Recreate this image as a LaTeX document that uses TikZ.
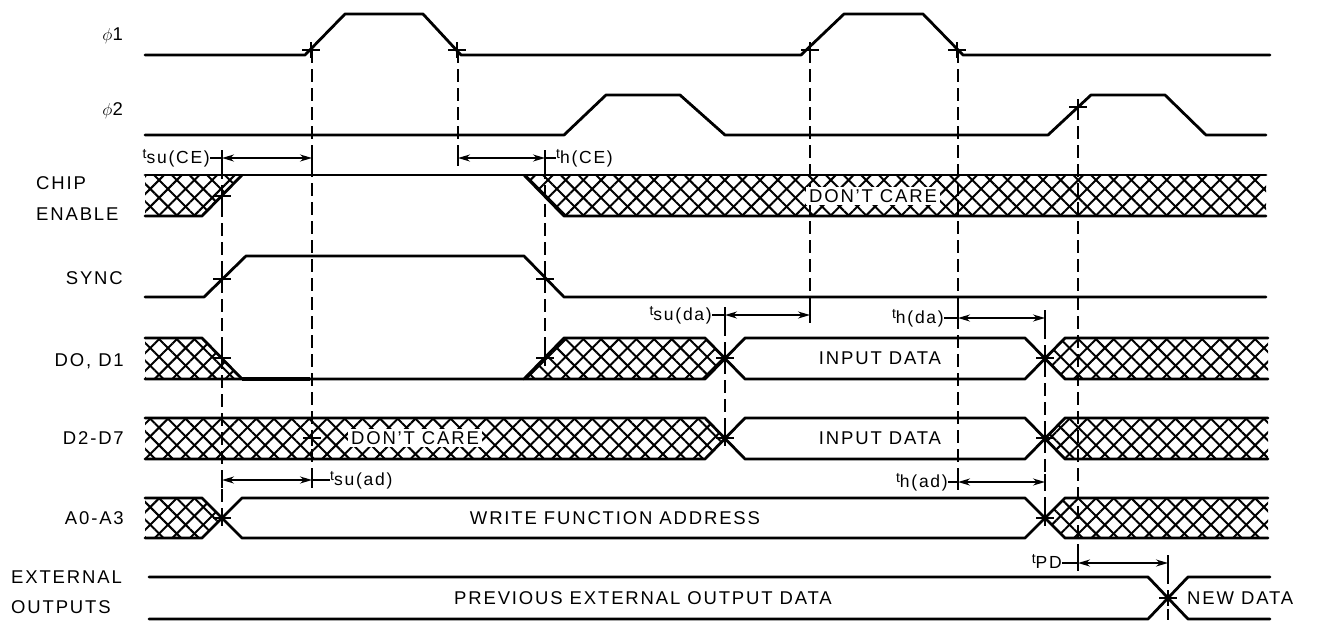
\documentclass[tikz,border=0pt]{standalone}
\usepackage{fontspec}
\setmainfont{Liberation Sans}[LetterSpace=10]
\usetikzlibrary{arrows.meta,patterns.meta}
\newcommand{\tlab}[1]{\raisebox{5pt}{\fontsize{14}{14}\selectfont t}{\fontsize{17.5}{18}\selectfont #1}}
\tikzset{
  sig/.style={line width=2.8pt, line join=round, line cap=round},
  dsh/.style={line width=1.5pt, dash pattern=on 13pt off 6pt},
  hatch/.style={pattern={Lines[angle=45,distance=12.5pt,line width=2pt]},
                postaction={pattern={Lines[angle=-45,distance=12.5pt,line width=2pt]}}},
  tick/.style={line width=1.5pt},
  tarr/.style={line width=1.5pt, {Stealth[length=12pt,width=7pt]}-{Stealth[length=12pt,width=7pt]}},
  lbl/.style={font=\fontsize{18.5}{20}\selectfont, inner sep=0pt, text height=13.2pt, text depth=0pt},
  tl/.style={inner sep=0pt},
  pics/mk/.style={code={\draw[line width=1.5pt] (-9,0)--(9,0) (0,-8)--(0,8);}},
}
\begin{document}
\begin{tikzpicture}[x=1pt,y=-1pt]
\useasboundingbox (0,0) rectangle (1318,622);
\fill[white] (0,0) rectangle (1318,622);

% ---------- hatched regions ----------
\path[hatch] (145,175) -- (242,175) -- (202,216) -- (145,216) -- cycle;
\path[hatch] (524,175) -- (1266,175) -- (1266,216) -- (564,216) -- cycle;
\path[hatch] (145,338) -- (202,338) -- (242,379) -- (145,379) -- cycle;
\path[hatch] (524,379) -- (564,338) -- (705,338) -- (725,358.5) -- (705,379) -- cycle;
\path[hatch] (1045,358.5) -- (1065,338) -- (1268,338) -- (1268,379) -- (1065,379) -- cycle;
\path[hatch] (145,418) -- (705,418) -- (725,438.5) -- (705,459) -- (145,459) -- cycle;
\path[hatch] (1045,438.5) -- (1065,418) -- (1268,418) -- (1268,459) -- (1065,459) -- cycle;
\path[hatch] (145,498) -- (202,498) -- (222,518) -- (202,538) -- (145,538) -- cycle;
\path[hatch] (1045,518) -- (1065,498) -- (1268,498) -- (1268,538) -- (1065,538) -- cycle;

% ---------- signals ----------
% phi1
\draw[sig] (145,55) -- (305,55) -- (345,14) -- (423,14) -- (461,55) -- (801,55) -- (844,14) -- (923,14) -- (963,55) -- (1270,55);
% phi2
\draw[sig] (145,135) -- (564,135) -- (606,95) -- (680,95) -- (725,135) -- (1048,135) -- (1091,95) -- (1165,95) -- (1206,135) -- (1266,135);
% chip enable
\draw[sig] (145,175) -- (1266,175);
\draw[sig] (145,216) -- (202,216) -- (242,175);
\draw[sig] (524,175) -- (564,216) -- (1266,216);
% sync
\draw[sig] (145,297) -- (204,297) -- (246,256) -- (524,256) -- (564,297) -- (1266,297);
% D0, D1
\draw[sig] (145,338) -- (202,338) -- (242,379);
\draw[sig] (145,379) -- (705,379) -- (745,338) -- (1025,338) -- (1065,379) -- (1268,379);
\draw[sig] (524,379) -- (564,338) -- (705,338) -- (745,379) -- (1025,379) -- (1065,338) -- (1268,338);
\draw[line width=4.2pt] (242,379) -- (310,379);
% D2-D7
\draw[sig] (145,418) -- (705,418) -- (745,459) -- (1025,459) -- (1065,418) -- (1268,418);
\draw[sig] (145,459) -- (705,459) -- (745,418) -- (1025,418) -- (1065,459) -- (1268,459);
% A0-A3
\draw[sig] (145,498) -- (202,498) -- (242,538) -- (1025,538) -- (1065,498) -- (1268,498);
\draw[sig] (145,538) -- (202,538) -- (242,498) -- (1025,498) -- (1065,538) -- (1268,538);
% external outputs
\draw[sig] (149,577) -- (1148,577) -- (1188,619) -- (1270,619);
\draw[sig] (149,619) -- (1148,619) -- (1188,577) -- (1270,577);

% ---------- dashed reference lines ----------
\draw[dsh] (222,166) -- (222,518);
\draw[dsh] (312,50) -- (312,483);
\draw[dsh] (458,50) -- (458,166);
\draw[dsh] (545,166) -- (545,358);
\draw[dsh] (725,323) -- (725,438);
\draw[dsh] (810,50) -- (810,322);
\draw[dsh] (958,50) -- (958,482);
\draw[dsh] (1045,326) -- (1045,518);
\draw[dsh] (1078,107) -- (1078,562);
\draw[dsh] (1168,571) -- (1168,620);

% ---------- crossing marks ----------
\foreach \p in {(311,50),(457,50),(810,50),(957,50),(1078,107),(222,196),(222,279),(545,279),
  (222,358),(545,358),(725,358),(1045,358),(312,438),(725,438),(1045,438),(222,518),(1045,518),(1168,598)}
  \pic at \p {mk};

% ---------- signal names ----------
\node[lbl, anchor=east] (nphi1) at (123,34) {$\phi$1};
\node[lbl, anchor=east] (nphi2) at (123,109) {$\phi$2};
\node[lbl, anchor=west] (nchip) at (36,183) {CHIP};
\node[lbl, anchor=west] (nenable) at (36,214) {ENABLE};
\node[lbl, anchor=east] (nsync) at (123,278) {SYNC};
\node[lbl, anchor=east] (nd01) at (124,360) {DO, D1};
\node[lbl, anchor=east] (nd27) at (124,438) {D2-D7};
\node[lbl, anchor=east] (na03) at (124,518) {A0-A3};
\node[lbl, anchor=west] (next) at (11,577) {EXTERNAL};
\node[lbl, anchor=west] (nout) at (11,607) {OUTPUTS};

% ---------- texts in the waveforms ----------
\node[lbl, fill=white, inner xsep=3pt, inner ysep=2pt] (dc1) at (873,196) {DON'T CARE};
\node[lbl, fill=white, inner xsep=3pt, inner ysep=2pt] (dc2) at (415,438) {DON'T CARE};
\node[lbl] (in1) at (880,358) {INPUT DATA};
\node[lbl] (in2) at (880,438) {INPUT DATA};
\node[lbl] (wfa) at (615,518) {WRITE FUNCTION ADDRESS};
\node[lbl] (prev) at (643,598) {PREVIOUS EXTERNAL OUTPUT DATA};
\node[lbl, anchor=west] (newd) at (1187,598) {NEW DATA};

% ---------- timing intervals ----------
% t_su(CE)
\coordinate (suCEa) at (222,158); \coordinate (suCEb) at (312,158);
\node[tl, anchor=base east] (LsuCE) at (210,163) {\tlab{su(CE)}};
\draw[tick] (LsuCE.east |- suCEa) -- (suCEa);
\draw[tick] ([yshift=8pt]suCEa) -- ([yshift=-8pt]suCEa) ([yshift=8pt]suCEb) -- ([yshift=-8pt]suCEb);
\draw[tarr] (suCEa) -- (suCEb);
% t_h(CE)
\coordinate (hCEa) at (458,158); \coordinate (hCEb) at (545,158);
\node[tl, anchor=base west] (LhCE) at (556,163) {\tlab{h(CE)}};
\draw[tick] (hCEb) -- (LhCE.west |- hCEb);
\draw[tick] ([yshift=8pt]hCEa) -- ([yshift=-8pt]hCEa) ([yshift=8pt]hCEb) -- ([yshift=-8pt]hCEb);
\draw[tarr] (hCEa) -- (hCEb);
% t_su(da)
\coordinate (suDAa) at (725,315); \coordinate (suDAb) at (810,315);
\node[tl, anchor=base east] (LsuDA) at (712,320) {\tlab{su(da)}};
\draw[tick] (LsuDA.east |- suDAa) -- (suDAa);
\draw[tick] ([yshift=8pt]suDAa) -- ([yshift=-8pt]suDAa) ([yshift=8pt]suDAb) -- ([yshift=-8pt]suDAb);
\draw[tarr] (suDAa) -- (suDAb);
% t_h(da)
\coordinate (hDAa) at (958,318); \coordinate (hDAb) at (1045,318);
\node[tl, anchor=base east] (LhDA) at (944,323) {\tlab{h(da)}};
\draw[tick] (LhDA.east |- hDAa) -- (hDAa);
\draw[tick] ([yshift=8pt]hDAa) -- ([yshift=-8pt]hDAa) ([yshift=8pt]hDAb) -- ([yshift=-8pt]hDAb);
\draw[tarr] (hDAa) -- (hDAb);
% t_su(ad)
\coordinate (suADa) at (222,480); \coordinate (suADb) at (312,480);
\node[tl, anchor=base west] (LsuAD) at (330,485) {\tlab{su(ad)}};
\draw[tick] (suADb) -- (LsuAD.west |- suADb);
\draw[tick] ([yshift=8pt]suADa) -- ([yshift=-8pt]suADa) ([yshift=8pt]suADb) -- ([yshift=-8pt]suADb);
\draw[tarr] (suADa) -- (suADb);
% t_h(ad)
\coordinate (hADa) at (958,482); \coordinate (hADb) at (1045,482);
\node[tl, anchor=base east] (LhAD) at (948,487) {\tlab{h(ad)}};
\draw[tick] (LhAD.east |- hADa) -- (hADa);
\draw[tick] ([yshift=8pt]hADa) -- ([yshift=-8pt]hADa) ([yshift=8pt]hADb) -- ([yshift=-8pt]hADb);
\draw[tarr] (hADa) -- (hADb);
% t_PD
\coordinate (pda) at (1078,563); \coordinate (pdb) at (1168,563);
\node[tl, anchor=base east] (Lpd) at (1062,568) {\tlab{PD}};
\draw[tick] (Lpd.east |- pda) -- (pda);
\draw[tick] ([yshift=8pt]pda) -- ([yshift=-8pt]pda) ([yshift=8pt]pdb) -- ([yshift=-8pt]pdb);
\draw[tarr] (pda) -- (pdb);
\end{tikzpicture}
\end{document}
